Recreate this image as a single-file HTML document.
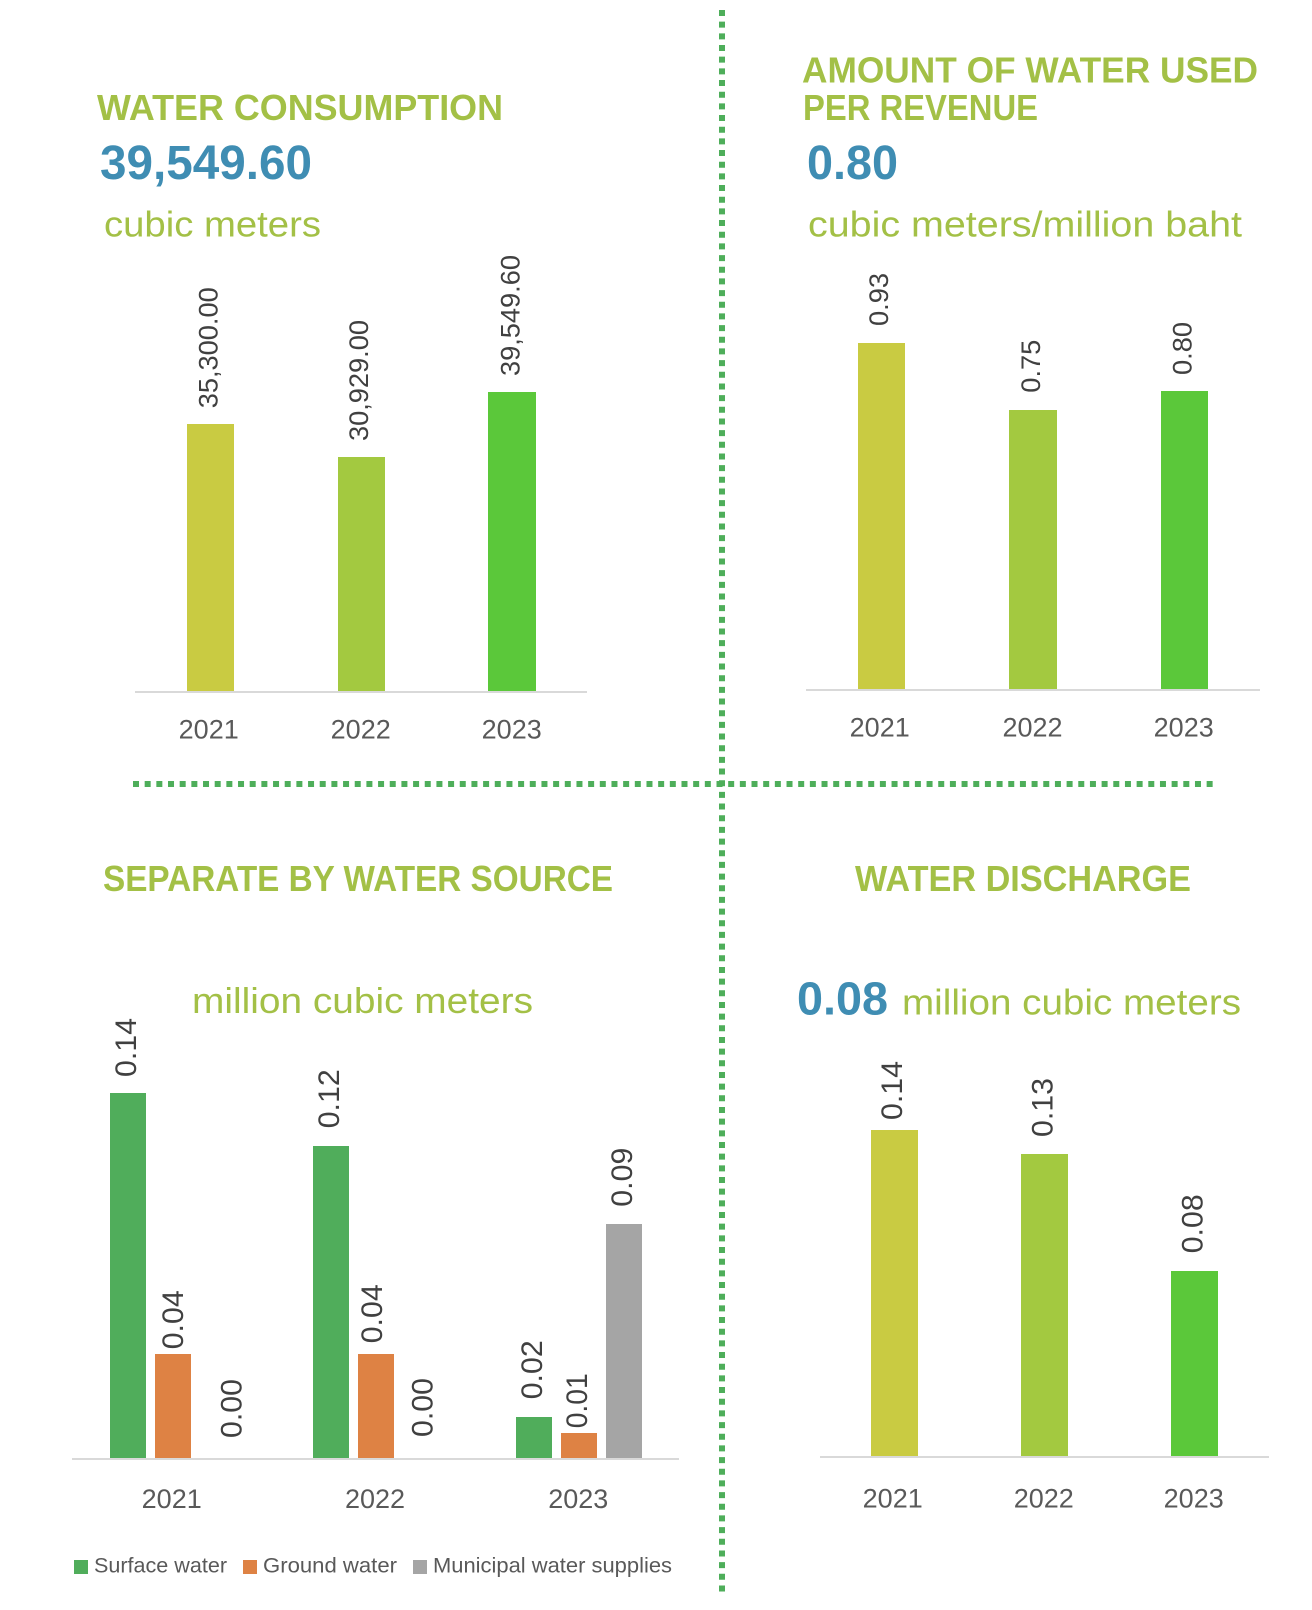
<!DOCTYPE html>
<html>
<head>
<meta charset="utf-8">
<style>
  html, body { margin: 0; padding: 0; background: #ffffff; }
  body { width: 1312px; height: 1610px; overflow: hidden; }
  svg { display: block; font-family: "Liberation Sans", Arial, sans-serif; }
  .ttl { font-weight: bold; font-size: 36px; fill: #a3c046; }
  .big { font-weight: bold; font-size: 48px; fill: #3f8db3; }
  .unit { font-size: 36px; fill: #a3c046; }
  .lbl { font-size: 27px; fill: #404040; }
  .lbl2 { font-size: 30px; fill: #404040; }
  .yr { font-size: 27px; fill: #595959; }
  .leg { font-size: 21px; fill: #595959; }
</style>
</head>
<body>
<svg width="1312" height="1610" viewBox="0 0 1312 1610" xmlns="http://www.w3.org/2000/svg">
  <rect x="0" y="0" width="1312" height="1610" fill="#ffffff"/>

  <!-- Dotted separators -->
  <line x1="722" y1="10" x2="722" y2="1595" stroke="#4eae5a" stroke-width="6" stroke-dasharray="6 5.67"/>
  <line x1="133" y1="784" x2="1215" y2="784" stroke="#4eae5a" stroke-width="6" stroke-dasharray="6 5.67"/>

  <!-- ===== Top-left: Water consumption ===== -->
  <text class="ttl" x="97" y="120" textLength="406" lengthAdjust="spacingAndGlyphs">WATER CONSUMPTION</text>
  <text class="big" x="100" y="179" textLength="212" lengthAdjust="spacingAndGlyphs">39,549.60</text>
  <text class="unit" x="104" y="236.7" textLength="217" lengthAdjust="spacingAndGlyphs">cubic meters</text>

  <rect x="187" y="424" width="47" height="267" fill="#c9cb42"/>
  <rect x="338" y="457" width="47" height="234" fill="#a3c940"/>
  <rect x="488" y="392" width="48" height="299" fill="#5bc83a"/>
  <rect x="135" y="691" width="452" height="2" fill="#d9d9d9"/>

  <text class="lbl" transform="translate(217.7,408.3) rotate(-90)" textLength="121" lengthAdjust="spacingAndGlyphs">35,300.00</text>
  <text class="lbl" transform="translate(368.2,441) rotate(-90)" textLength="121" lengthAdjust="spacingAndGlyphs">30,929.00</text>
  <text class="lbl" transform="translate(519.7,376) rotate(-90)" textLength="121" lengthAdjust="spacingAndGlyphs">39,549.60</text>

  <text class="yr" x="208.7" y="738.3" text-anchor="middle">2021</text>
  <text class="yr" x="360.7" y="738.3" text-anchor="middle">2022</text>
  <text class="yr" x="511.7" y="738.3" text-anchor="middle">2023</text>

  <!-- ===== Top-right: Amount of water used per revenue ===== -->
  <text class="ttl" x="802" y="82.7" textLength="456" lengthAdjust="spacingAndGlyphs">AMOUNT OF WATER USED</text>
  <text class="ttl" x="803" y="120" textLength="235" lengthAdjust="spacingAndGlyphs">PER REVENUE</text>
  <text class="big" x="807" y="179" textLength="91" lengthAdjust="spacingAndGlyphs">0.80</text>
  <text class="unit" x="808" y="236.7" textLength="434" lengthAdjust="spacingAndGlyphs">cubic meters/million baht</text>

  <rect x="858" y="343" width="47" height="346" fill="#c9cb42"/>
  <rect x="1009" y="410" width="48" height="279" fill="#a3c940"/>
  <rect x="1161" y="391" width="47" height="298" fill="#5bc83a"/>
  <rect x="806" y="689" width="454" height="2" fill="#d9d9d9"/>

  <text class="lbl" transform="translate(888.2,326) rotate(-90)" textLength="53" lengthAdjust="spacingAndGlyphs">0.93</text>
  <text class="lbl" transform="translate(1040.2,392.7) rotate(-90)" textLength="53" lengthAdjust="spacingAndGlyphs">0.75</text>
  <text class="lbl" transform="translate(1191.7,375) rotate(-90)" textLength="53" lengthAdjust="spacingAndGlyphs">0.80</text>

  <text class="yr" x="879.7" y="736.7" text-anchor="middle">2021</text>
  <text class="yr" x="1032.5" y="736.7" text-anchor="middle">2022</text>
  <text class="yr" x="1183.7" y="736.7" text-anchor="middle">2023</text>

  <!-- ===== Bottom-left: Separate by water source ===== -->
  <text class="ttl" x="103" y="891" textLength="510" lengthAdjust="spacingAndGlyphs">SEPARATE BY WATER SOURCE</text>
  <text class="unit" x="192" y="1013" textLength="341" lengthAdjust="spacingAndGlyphs">million cubic meters</text>

  <rect x="110" y="1093" width="36" height="365" fill="#50ad5b"/>
  <rect x="155" y="1354" width="36" height="104" fill="#de8244"/>
  <rect x="313" y="1146" width="36" height="312" fill="#50ad5b"/>
  <rect x="358" y="1354" width="36" height="104" fill="#de8244"/>
  <rect x="516" y="1417" width="36" height="41" fill="#50ad5b"/>
  <rect x="561" y="1433" width="36" height="25" fill="#de8244"/>
  <rect x="606" y="1224" width="36" height="234" fill="#a5a5a5"/>
  <rect x="72" y="1458" width="607" height="2" fill="#d9d9d9"/>

  <text class="lbl2" transform="translate(136.1,1077) rotate(-90)" textLength="59" lengthAdjust="spacingAndGlyphs">0.14</text>
  <text class="lbl2" transform="translate(182.8,1349.3) rotate(-90)" textLength="59" lengthAdjust="spacingAndGlyphs">0.04</text>
  <text class="lbl2" transform="translate(241.3,1438) rotate(-90)" textLength="59" lengthAdjust="spacingAndGlyphs">0.00</text>
  <text class="lbl2" transform="translate(338.8,1128.3) rotate(-90)" textLength="59" lengthAdjust="spacingAndGlyphs">0.12</text>
  <text class="lbl2" transform="translate(381.8,1343.3) rotate(-90)" textLength="59" lengthAdjust="spacingAndGlyphs">0.04</text>
  <text class="lbl2" transform="translate(432.3,1437) rotate(-90)" textLength="59" lengthAdjust="spacingAndGlyphs">0.00</text>
  <text class="lbl2" transform="translate(542.1,1399.3) rotate(-90)" textLength="59" lengthAdjust="spacingAndGlyphs">0.02</text>
  <text class="lbl2" transform="translate(586.8,1428.3) rotate(-90)" textLength="55" lengthAdjust="spacingAndGlyphs">0.01</text>
  <text class="lbl2" transform="translate(631.8,1206.7) rotate(-90)" textLength="59" lengthAdjust="spacingAndGlyphs">0.09</text>

  <text class="yr" x="171.7" y="1508" text-anchor="middle">2021</text>
  <text class="yr" x="375" y="1508" text-anchor="middle">2022</text>
  <text class="yr" x="578.3" y="1508" text-anchor="middle">2023</text>

  <!-- Legend -->
  <rect x="74" y="1560" width="14" height="14" fill="#50ad5b"/>
  <text class="leg" x="94" y="1572.7" textLength="133" lengthAdjust="spacingAndGlyphs">Surface water</text>
  <rect x="243" y="1560" width="14" height="14" fill="#de8244"/>
  <text class="leg" x="263" y="1572.7" textLength="134" lengthAdjust="spacingAndGlyphs">Ground water</text>
  <rect x="413" y="1560" width="14" height="14" fill="#a5a5a5"/>
  <text class="leg" x="433" y="1572.7" textLength="239" lengthAdjust="spacingAndGlyphs">Municipal water supplies</text>

  <!-- ===== Bottom-right: Water discharge ===== -->
  <text class="ttl" x="855" y="891" textLength="336" lengthAdjust="spacingAndGlyphs">WATER DISCHARGE</text>
  <text class="big" x="797" y="1014.3" textLength="91" lengthAdjust="spacingAndGlyphs" style="font-size:46px">0.08</text>
  <text class="unit" x="902" y="1014.3" textLength="339" lengthAdjust="spacingAndGlyphs">million cubic meters</text>

  <rect x="871" y="1130" width="47" height="326" fill="#c9cb42"/>
  <rect x="1021" y="1154" width="47" height="302" fill="#a3c940"/>
  <rect x="1171" y="1271" width="47" height="185" fill="#5bc83a"/>
  <rect x="820" y="1456" width="449" height="2" fill="#d9d9d9"/>

  <text class="lbl2" transform="translate(902.1,1120) rotate(-90)" textLength="59" lengthAdjust="spacingAndGlyphs">0.14</text>
  <text class="lbl2" transform="translate(1052.5,1137) rotate(-90)" textLength="59" lengthAdjust="spacingAndGlyphs">0.13</text>
  <text class="lbl2" transform="translate(1202.5,1253.3) rotate(-90)" textLength="59" lengthAdjust="spacingAndGlyphs">0.08</text>

  <text class="yr" x="892.7" y="1507.7" text-anchor="middle">2021</text>
  <text class="yr" x="1043.8" y="1507.7" text-anchor="middle">2022</text>
  <text class="yr" x="1193.7" y="1507.7" text-anchor="middle">2023</text>
</svg>
</body>
</html>
